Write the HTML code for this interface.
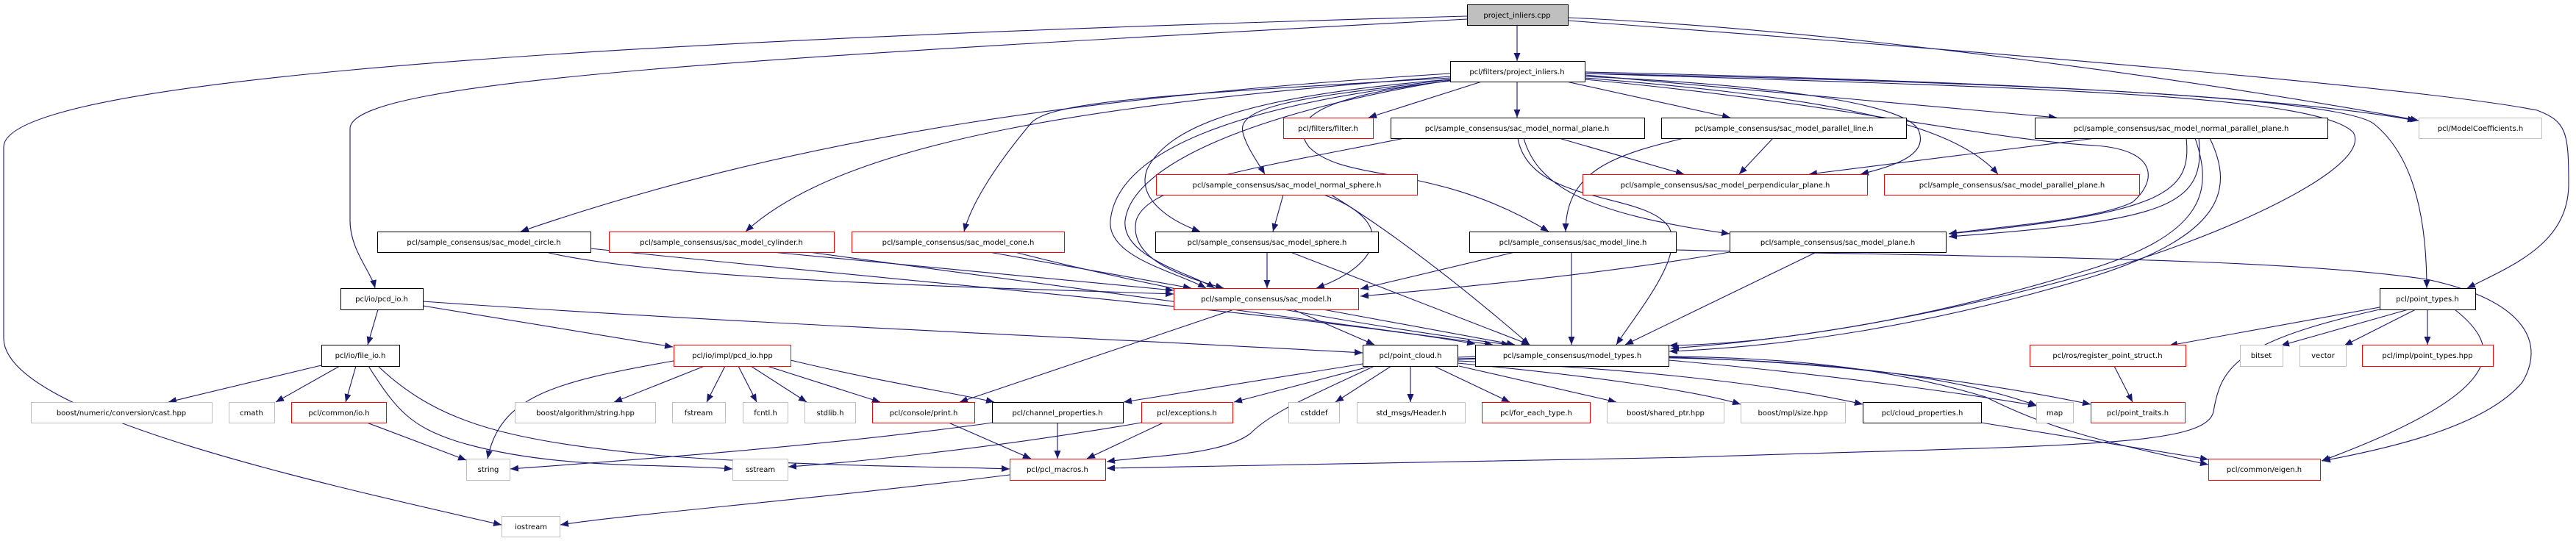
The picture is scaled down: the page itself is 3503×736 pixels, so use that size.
<!DOCTYPE html>
<html><head><meta charset="utf-8"><style>
html,body{margin:0;padding:0;background:#fff;width:3503px;height:736px;overflow:hidden}
svg{display:block}
text{font-family:"DejaVu Sans","Liberation Sans",sans-serif;font-size:10px;fill:#000;text-anchor:middle}
.e{fill:none;stroke:#191970;stroke-width:1.1;marker-end:url(#a)}
.b{fill:#fff;stroke:#000;stroke-width:1}
.r{fill:#fff;stroke:#ff0000;stroke-width:1}
.g{fill:#fff;stroke:#bfbfbf;stroke-width:1}
</style></head><body>
<svg width="3503" height="736" viewBox="0 0 3503 736" xmlns="http://www.w3.org/2000/svg">
<defs><marker id="a" markerUnits="userSpaceOnUse" markerWidth="12" markerHeight="9" refX="11" refY="4.5" orient="auto"><path d="M0,0 L11,4.5 L0,9 z" fill="#191970"/></marker></defs>
<g>
<path class="e" d="M2063,34 L2063,83"/>
<path class="e" d="M1995,22 C600,60 5,120 5,200 L5,460 C5,560 400,650 682,714"/>
<path class="e" d="M1995,26 C1000,80 476,110 476,175 L476,300 C476,340 505,370 510,392"/>
<path class="e" d="M2132,24 C2500,40 3000,110 3289,164"/>
<path class="e" d="M2132,28 C2700,70 3300,120 3450,150 C3490,165 3493,180 3493,250 C3493,330 3420,360 3355,392"/>
<path class="e" d="M1972,100 C1500,130 1100,180 708,315"/>
<path class="e" d="M1972,104 C1500,140 1150,190 1014,315"/>
<path class="e" d="M1972,106 C1550,130 1420,140 1400,170 C1350,230 1320,280 1311,315"/>
<path class="e" d="M2015,111 L1861,160"/>
<path class="e" d="M2063,111 L2063,160"/>
<path class="e" d="M2130,111 L2353,160"/>
<path class="e" d="M2155,102 L2797,160"/>
<path class="e" d="M2155,98 C2700,110 3100,130 3285,164"/>
<path class="e" d="M1972,108 C1800,130 1680,140 1690,180 C1695,200 1710,220 1720,237"/>
<path class="e" d="M1972,108 C1700,130 1590,170 1560,230 C1545,270 1590,300 1632,315"/>
<path class="e" d="M1972,110 C1800,130 1750,160 1780,200 C1830,250 1950,220 2106,315"/>
<path class="e" d="M2155,104 C2400,115 2600,140 2610,180 C2620,210 2580,225 2530,237"/>
<path class="e" d="M2155,106 C2450,130 2650,160 2717,237"/>
<path class="e" d="M2155,108 C2500,140 2700,190 2850,198 C2940,205 2930,250 2900,275 C2850,300 2700,310 2650,318"/>
<path class="e" d="M1972,110 C1700,140 1520,200 1510,300 C1505,350 1600,370 1640,392"/>
<path class="e" d="M1972,109 C1720,150 1540,220 1530,300 C1525,350 1620,372 1652,392"/>
<path class="e" d="M2155,100 C2800,120 3150,130 3200,180 C3230,230 3000,330 2850,370 C2600,440 2400,465 2272,474"/>
<path class="e" d="M2155,100 C2900,115 3200,140 3230,170 C3290,220 3300,320 3300,392"/>
<path class="e" d="M1910,188 C1700,230 1560,250 1545,300 C1535,350 1600,375 1664,392"/>
<path class="e" d="M2120,188 L2290,237"/>
<path class="e" d="M2072,188 C2090,250 2150,290 2352,318"/>
<path class="e" d="M2064,188 C2080,280 2240,260 2270,310 C2290,350 2230,420 2198,469"/>
<path class="e" d="M2290,188 C2200,210 2129,230 2129,315"/>
<path class="e" d="M2411,188 L2365,237"/>
<path class="e" d="M2850,188 L2460,237"/>
<path class="e" d="M2973,188 C2980,260 2950,290 2650,318"/>
<path class="e" d="M2990,188 C3000,280 2950,300 2650,322"/>
<path class="e" d="M2985,188 C3010,260 3000,320 2830,370 C2600,440 2400,468 2270,470"/>
<path class="e" d="M3005,188 C3040,260 3020,320 2850,375 C2620,445 2420,472 2270,478"/>
<path class="e" d="M1745,265 L1731,315"/>
<path class="e" d="M1800,265 C1900,300 1880,360 1790,392"/>
<path class="e" d="M1810,265 C1900,320 2000,400 2080,469"/>
<path class="e" d="M742,343 C900,380 1300,390 1596,400"/>
<path class="e" d="M803,338 C1200,380 1800,430 2006,468"/>
<path class="e" d="M1050,343 L1596,395"/>
<path class="e" d="M1100,343 C1500,400 1800,440 2030,469"/>
<path class="e" d="M1345,343 L1620,392"/>
<path class="e" d="M1380,343 C1600,400 1900,450 2053,469"/>
<path class="e" d="M1723,343 L1723,392"/>
<path class="e" d="M1755,343 L2080,469"/>
<path class="e" d="M2060,343 L1850,393"/>
<path class="e" d="M2137,343 L2137,469"/>
<path class="e" d="M2352,343 C2200,370 2000,390 1850,403"/>
<path class="e" d="M2470,343 L2210,469"/>
<path class="e" d="M2279,340 C2700,350 3100,350 3300,380 C3440,410 3460,470 3430,520 C3380,580 3250,610 3158,627"/>
<path class="e" d="M1678,421 L1305,547"/>
<path class="e" d="M1758,421 L1869,469"/>
<path class="e" d="M1799,421 L2060,469"/>
<path class="e" d="M514,421 L500,469"/>
<path class="e" d="M575,416 L915,472"/>
<path class="e" d="M575,410 C1000,440 1500,460 1853,480"/>
<path class="e" d="M437,497 L229,547"/>
<path class="e" d="M462,498 L375,547"/>
<path class="e" d="M484,498 L470,547"/>
<path class="e" d="M501,498 C540,560 560,580 620,600 C750,640 900,630 996,638"/>
<path class="e" d="M514,498 C600,580 700,600 900,620 C1100,635 1300,635 1373,638"/>
<path class="e" d="M499,575 L634,626"/>
<path class="e" d="M916,491 C750,520 680,540 663,624"/>
<path class="e" d="M958,498 L835,547"/>
<path class="e" d="M986,498 L961,547"/>
<path class="e" d="M1004,498 L1029,547"/>
<path class="e" d="M1021,498 L1097,547"/>
<path class="e" d="M1043,498 L1197,547"/>
<path class="e" d="M1075,490 C1200,520 1300,535 1352,547"/>
<path class="e" d="M1290,575 L1402,624"/>
<path class="e" d="M1438,575 L1438,624"/>
<path class="e" d="M1582,575 L1478,624"/>
<path class="e" d="M1350,575 C1100,610 800,630 694,638"/>
<path class="e" d="M1552,575 C1350,610 1150,630 1072,635"/>
<path class="e" d="M1373,646 C1100,680 850,700 762,714"/>
<path class="e" d="M1853,495 L1528,547"/>
<path class="e" d="M1865,498 L1678,547"/>
<path class="e" d="M1869,498 C1780,540 1730,560 1700,590 C1660,620 1560,620 1505,628"/>
<path class="e" d="M1892,498 L1816,547"/>
<path class="e" d="M1918,498 L1918,547"/>
<path class="e" d="M1950,498 L2053,547"/>
<path class="e" d="M1984,498 L2198,547"/>
<path class="e" d="M1982,494 C2150,510 2300,530 2367,550"/>
<path class="e" d="M1982,491 C2200,500 2400,520 2533,550"/>
<path class="e" d="M1982,488 C2300,480 2600,490 2770,552"/>
<path class="e" d="M1982,486 C2300,475 2600,500 2843,550"/>
<path class="e" d="M1982,489 C2300,480 2500,480 2700,540 C2780,580 2850,600 3003,632"/>
<path class="e" d="M2269,490 C2500,510 2700,540 2769,552"/>
<path class="e" d="M2694,575 L3003,625"/>
<path class="e" d="M3236,418 L2950,470"/>
<path class="e" d="M3236,421 C3040,465 3020,500 3010,560 C3000,610 2800,605 2300,622 C2000,630 1700,634 1505,637"/>
<path class="e" d="M3275,421 L3102,470"/>
<path class="e" d="M3285,421 L3188,470"/>
<path class="e" d="M3301,421 L3301,469"/>
<path class="e" d="M3338,421 C3400,470 3420,530 3157,627"/>
<path class="e" d="M2875,498 L2900,547"/>
</g>
<g>
<rect x="1995.5" y="6.5" width="137" height="28" fill="#bfbfbf" stroke="#000"/><text x="2063" y="24">project_inliers.cpp</text>
<rect class="b" x="1972.5" y="83.5" width="183" height="28"/><text x="2063" y="101">pcl/filters/project_inliers.h</text>
<rect class="r" x="1745.5" y="160.5" width="122" height="28"/><text x="1806" y="178">pcl/filters/filter.h</text>
<rect class="b" x="1891.5" y="160.5" width="345" height="28"/><text x="2063" y="178">pcl/sample_consensus/sac_model_normal_plane.h</text>
<rect class="b" x="2259.5" y="160.5" width="333" height="28"/><text x="2426" y="178">pcl/sample_consensus/sac_model_parallel_line.h</text>
<rect class="b" x="2767.5" y="160.5" width="398" height="28"/><text x="2966" y="178">pcl/sample_consensus/sac_model_normal_parallel_plane.h</text>
<rect class="g" x="3289.5" y="160.5" width="167" height="28"/><text x="3373" y="178">pcl/ModelCoefficients.h</text>
<rect class="r" x="1572.5" y="237.5" width="355" height="28"/><text x="1750" y="255">pcl/sample_consensus/sac_model_normal_sphere.h</text>
<rect class="r" x="2152.5" y="237.5" width="387" height="28"/><text x="2346" y="255">pcl/sample_consensus/sac_model_perpendicular_plane.h</text>
<rect class="r" x="2562.5" y="237.5" width="347" height="28"/><text x="2736" y="255">pcl/sample_consensus/sac_model_parallel_plane.h</text>
<rect class="b" x="513.5" y="315.5" width="290" height="28"/><text x="658" y="333">pcl/sample_consensus/sac_model_circle.h</text>
<rect class="r" x="828.5" y="315.5" width="306" height="28"/><text x="981" y="333">pcl/sample_consensus/sac_model_cylinder.h</text>
<rect class="r" x="1158.5" y="315.5" width="289" height="28"/><text x="1303" y="333">pcl/sample_consensus/sac_model_cone.h</text>
<rect class="b" x="1571.5" y="315.5" width="303" height="28"/><text x="1723" y="333">pcl/sample_consensus/sac_model_sphere.h</text>
<rect class="b" x="1998.5" y="315.5" width="281" height="28"/><text x="2139" y="333">pcl/sample_consensus/sac_model_line.h</text>
<rect class="b" x="2352.5" y="315.5" width="294" height="28"/><text x="2499" y="333">pcl/sample_consensus/sac_model_plane.h</text>
<rect class="b" x="463.5" y="392.5" width="112" height="29"/><text x="519" y="410">pcl/io/pcd_io.h</text>
<rect class="r" x="1596.5" y="392.5" width="251" height="29"/><text x="1722" y="410">pcl/sample_consensus/sac_model.h</text>
<rect class="b" x="3236.5" y="392.5" width="130" height="29"/><text x="3301" y="410">pcl/point_types.h</text>
<rect class="b" x="437.5" y="469.5" width="106" height="29"/><text x="490" y="487">pcl/io/file_io.h</text>
<rect class="r" x="916.5" y="469.5" width="159" height="29"/><text x="996" y="487">pcl/io/impl/pcd_io.hpp</text>
<rect class="b" x="1853.5" y="469.5" width="129" height="29"/><text x="1918" y="487">pcl/point_cloud.h</text>
<rect class="b" x="2006.5" y="469.5" width="263" height="29"/><text x="2138" y="487">pcl/sample_consensus/model_types.h</text>
<rect class="r" x="2760.5" y="469.5" width="212" height="29"/><text x="2866" y="487">pcl/ros/register_point_struct.h</text>
<rect class="g" x="3046.5" y="469.5" width="58" height="29"/><text x="3075" y="487">bitset</text>
<rect class="g" x="3127.5" y="469.5" width="63" height="29"/><text x="3159" y="487">vector</text>
<rect class="r" x="3212.5" y="469.5" width="178" height="29"/><text x="3301" y="487">pcl/impl/point_types.hpp</text>
<rect class="g" x="42.5" y="547.5" width="246" height="28"/><text x="165" y="565">boost/numeric/conversion/cast.hpp</text>
<rect class="g" x="311.5" y="547.5" width="62" height="28"/><text x="342" y="565">cmath</text>
<rect class="r" x="396.5" y="547.5" width="129" height="28"/><text x="461" y="565">pcl/common/io.h</text>
<rect class="g" x="700.5" y="547.5" width="191" height="28"/><text x="796" y="565">boost/algorithm/string.hpp</text>
<rect class="g" x="914.5" y="547.5" width="72" height="28"/><text x="950" y="565">fstream</text>
<rect class="g" x="1010.5" y="547.5" width="61" height="28"/><text x="1041" y="565">fcntl.h</text>
<rect class="g" x="1094.5" y="547.5" width="69" height="28"/><text x="1129" y="565">stdlib.h</text>
<rect class="r" x="1186.5" y="547.5" width="139" height="28"/><text x="1256" y="565">pcl/console/print.h</text>
<rect class="b" x="1349.5" y="547.5" width="178" height="28"/><text x="1438" y="565">pcl/channel_properties.h</text>
<rect class="r" x="1552.5" y="547.5" width="124" height="28"/><text x="1614" y="565">pcl/exceptions.h</text>
<rect class="g" x="1752.5" y="547.5" width="69" height="28"/><text x="1787" y="565">cstddef</text>
<rect class="g" x="1845.5" y="547.5" width="147" height="28"/><text x="1919" y="565">std_msgs/Header.h</text>
<rect class="r" x="2015.5" y="547.5" width="147" height="28"/><text x="2089" y="565">pcl/for_each_type.h</text>
<rect class="g" x="2185.5" y="547.5" width="159" height="28"/><text x="2265" y="565">boost/shared_ptr.hpp</text>
<rect class="g" x="2367.5" y="547.5" width="142" height="28"/><text x="2438" y="565">boost/mpl/size.hpp</text>
<rect class="b" x="2533.5" y="547.5" width="161" height="28"/><text x="2614" y="565">pcl/cloud_properties.h</text>
<rect class="g" x="2769.5" y="547.5" width="50" height="28"/><text x="2794" y="565">map</text>
<rect class="r" x="2843.5" y="547.5" width="128" height="28"/><text x="2907" y="565">pcl/point_traits.h</text>
<rect class="g" x="634.5" y="624.5" width="59" height="29"/><text x="664" y="642">string</text>
<rect class="g" x="996.5" y="624.5" width="75" height="29"/><text x="1034" y="642">sstream</text>
<rect class="r" x="1373.5" y="624.5" width="130" height="29"/><text x="1438" y="642">pcl/pcl_macros.h</text>
<rect class="r" x="3003.5" y="624.5" width="152" height="29"/><text x="3079" y="642">pcl/common/eigen.h</text>
<rect class="g" x="682.5" y="702.5" width="79" height="28"/><text x="722" y="720">iostream</text>
</g>
</svg>
</body></html>
